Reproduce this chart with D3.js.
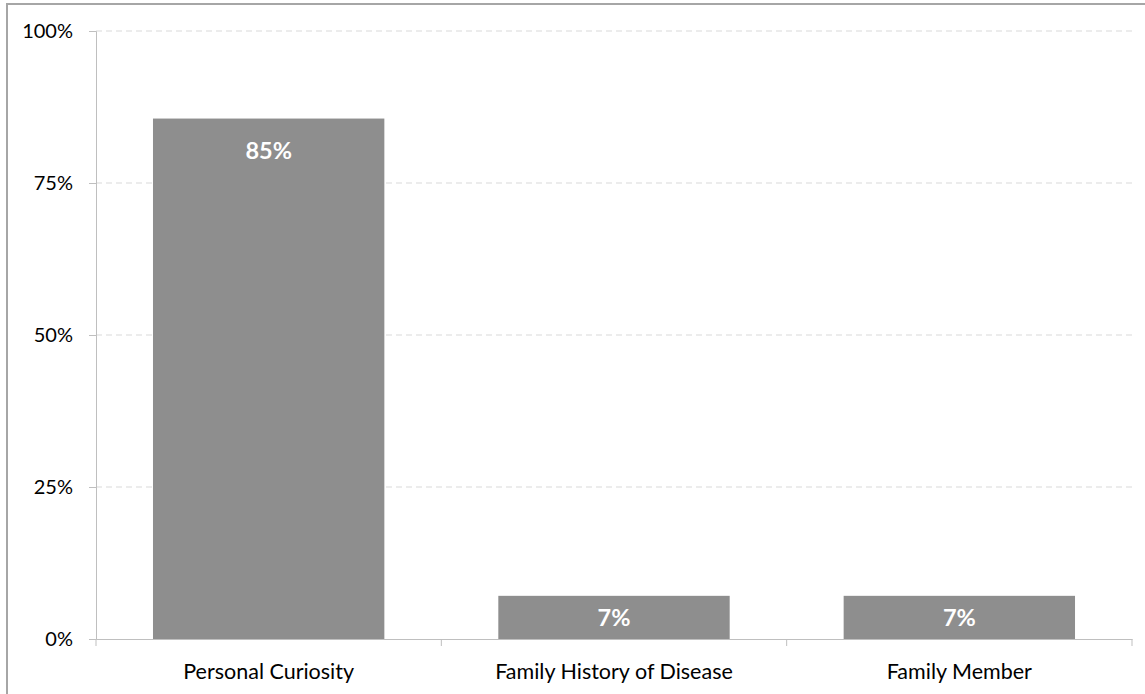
<!DOCTYPE html>
<html>
<head>
<meta charset="utf-8">
<script src="https://cdn.jsdelivr.net/npm/d3@7"></script>
<style>
  body { margin: 0; background: #fff; }
  svg { display: block; font-family: Lato, 'Open Sans', sans-serif; }
</style>
</head>
<body>
<svg id="chart"></svg>
<script>
const categories = ['Personal Curiosity', 'Family History of Disease', 'Family Member'];
const values = [85.6, 7.1, 7.1];
const valueLabels = ['85%', '7%', '7%'];
const yTicks = [0, 25, 50, 75, 100];

const width = 1145;
const height = 694;
const margin = { top: 31, right: 13, bottom: 55, left: 96 };

const svg = d3.select('#chart')
  .attr('width', width)
  .attr('height', height);

// frame of the pasted chart (top and left edge only)
svg.append('path')
  .attr('d', `M7,${height} V4 H${width}`)
  .attr('fill', 'none')
  .attr('stroke', '#a6a6a6')
  .attr('stroke-width', 2);

const x = d3.scaleBand()
  .domain(categories)
  .range([margin.left, width - margin.right])
  .paddingInner(0.33)
  .paddingOuter(0.165);

const y = d3.scaleLinear()
  .domain([0, 100])
  .range([height - margin.bottom, margin.top]);

// gridlines
svg.append('g')
  .selectAll('line')
  .data(yTicks.filter(d => d > 0))
  .join('line')
  .attr('x1', margin.left)
  .attr('x2', width - margin.right)
  .attr('y1', d => y(d))
  .attr('y2', d => y(d))
  .attr('stroke', '#d9d9d9')
  .attr('stroke-dasharray', '6,4');

// bars
svg.append('g')
  .selectAll('rect')
  .data(values)
  .join('rect')
  .attr('x', (d, i) => x(categories[i]))
  .attr('y', d => y(d))
  .attr('width', x.bandwidth())
  .attr('height', d => y(0) - y(d))
  .attr('fill', '#8e8e8e');

// bar labels
svg.append('g')
  .selectAll('text')
  .data(values)
  .join('text')
  .attr('x', (d, i) => x(categories[i]) + x.bandwidth() / 2)
  .attr('y', d => y(d) + Math.min(32, (y(0) - y(d)) / 2))
  .attr('dy', '0.35em')
  .attr('text-anchor', 'middle')
  .attr('fill', '#fff')
  .attr('font-weight', 'bold')
  .attr('font-size', 23.5)
  .text((d, i) => valueLabels[i]);

// y axis
const yAxis = svg.append('g')
  .attr('transform', `translate(${margin.left},0)`)
  .call(d3.axisLeft(y).tickValues(yTicks).tickSize(7).tickPadding(16).tickFormat(d => d + '%'));

// x axis
const xAxisG = svg.append('g')
  .attr('transform', `translate(0,${y(0)})`)
  .call(d3.axisBottom(x).tickSize(0).tickPadding(25));

// category boundary ticks
const bounds = d3.range(categories.length + 1).map(i => margin.left + i * (width - margin.right - margin.left) / categories.length);
xAxisG.append('g')
  .selectAll('line')
  .data(bounds)
  .join('line')
  .attr('x1', d => d)
  .attr('x2', d => d)
  .attr('y1', 0)
  .attr('y2', 7)
  .attr('stroke', '#bfbfbf');

svg.selectAll('.domain').attr('stroke', '#bfbfbf');
yAxis.selectAll('.tick line').attr('stroke', '#bfbfbf');
svg.selectAll('.tick text')
  .attr('font-family', "Lato, 'Open Sans', sans-serif")
  .attr('fill', '#000');
yAxis.selectAll('.tick text').attr('font-size', 20);
xAxisG.selectAll('.tick text').attr('font-size', 21.5);
</script>
</body>
</html>
